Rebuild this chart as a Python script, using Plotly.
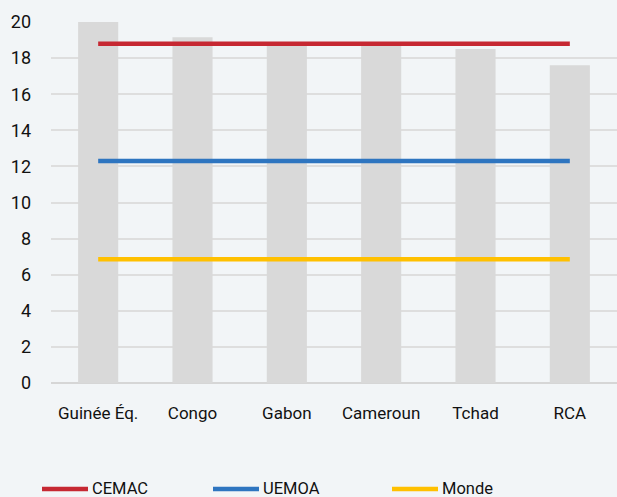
import plotly.graph_objects as go

categories = ["Guinée Éq.", "Congo", "Gabon", "Cameroun", "Tchad", "RCA"]
pays_values = [20.0, 19.15, 18.8, 18.75, 18.5, 17.6]
cemac = [18.8, 18.8, 18.8, 18.8, 18.8, 18.8]
uemoa = [12.3, 12.3, 12.3, 12.3, 12.3, 12.3]
monde = [6.85, 6.85, 6.85, 6.85, 6.85, 6.85]
y_ticks = [0, 2, 4, 6, 8, 10, 12, 14, 16, 18, 20]
series_names = ["CEMAC", "UEMOA", "Monde"]
series_colors = ["#c62832", "#2e75c0", "#ffc000"]

BG = "#f2f5f7"
FONT = "Roboto"
W, H = 617, 497
ML, MR, MT, MB = 51, 0, 22, 114
PW, PH = W - ML - MR, H - MT - MB

fig = go.Figure()
fig.add_trace(go.Bar(x=categories, y=pays_values, marker=dict(color="#d9d9d9", line=dict(width=0)),
                     showlegend=False, hoverinfo="skip"))
for name, vals, col in zip(series_names, [cemac, uemoa, monde], series_colors):
    fig.add_trace(go.Scatter(x=categories, y=vals, mode="lines", name=name, showlegend=False,
                             line=dict(color=col, width=4.5)))

# manual legend (pixel positions converted to paper coords)
leg_starts = [42, 213, 392]
leg_y_px = 489
def px_x(p):
    return (p - ML) / PW
def px_y(p):
    return (H - MB - p) / PH
for name, col, x0 in zip(series_names, series_colors, leg_starts):
    fig.add_shape(type="line", xref="paper", yref="paper",
                  x0=px_x(x0), x1=px_x(x0 + 46), y0=px_y(leg_y_px), y1=px_y(leg_y_px),
                  line=dict(color=col, width=4.5))
    fig.add_annotation(text=name, xref="paper", yref="paper", x=px_x(x0 + 48), y=px_y(leg_y_px - 1),
                       xanchor="left", yanchor="middle", showarrow=False,
                       font=dict(family=FONT, size=16.5, color="#111111"))

fig.update_layout(
    width=W, height=H,
    paper_bgcolor=BG, plot_bgcolor=BG,
    margin=dict(l=ML, r=MR, t=MT, b=MB, autoexpand=False),
    bargap=0.575,
    font=dict(family=FONT, size=17, color="#111111"),
    xaxis=dict(showgrid=False, showline=False, ticks="", tickfont=dict(size=17), ticklabelstandoff=18),
    yaxis=dict(range=[0, 20], tickvals=y_ticks, showgrid=True, gridcolor="#dedede", gridwidth=1.5,
               zeroline=True, zerolinecolor="#d6d6d6", zerolinewidth=2,
               ticks="", ticklabelstandoff=19, tickfont=dict(size=18)),
    showlegend=False,
)

fig.write_html("out.html", config={"displayModeBar": False},
               post_script="document.body.style.margin='0';document.body.style.background='#f2f5f7';")
